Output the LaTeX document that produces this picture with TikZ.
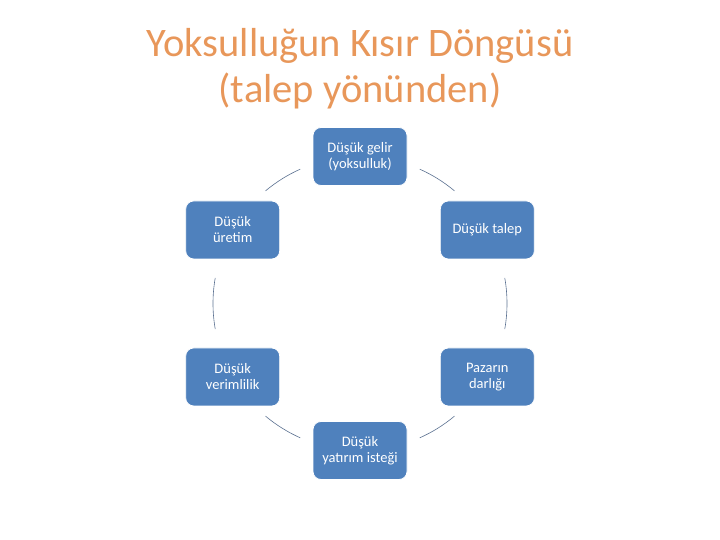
\documentclass[tikz,border=0pt]{standalone}
\usepackage{fontspec}
\setmainfont{Carlito}
\usetikzlibrary{calc}
\definecolor{titleor}{HTML}{E8975A}
\definecolor{boxblue}{HTML}{4F81BD}
\definecolor{arcline}{HTML}{5A7090}
\begin{document}
\begin{tikzpicture}[x=1pt,y=1pt,
  box/.style={draw=white,line width=0.8pt,fill=boxblue,rounded corners=8pt,
    minimum width=94pt,minimum height=58pt,inner sep=2pt,text=white,align=center,
    font=\fontsize{14.5}{16}\selectfont},
  ttl/.style={text=titleor,anchor=base,font=\fontsize{40.5}{46}\selectfont,inner sep=0pt},
  arcc/.style={draw=arcline,line width=0.6pt}]
\useasboundingbox (0,0) rectangle (720,540);
\node[ttl] (t1) at (360,483) {Yoksulluğun Kısır Döngüsü};
\node[ttl] (t2) at (360,437) {(talep yönünden)};
\coordinate (c) at (360,236.5);
\node[box] (n1) at ($(c)+(90:147)$) {Düşük gelir\\(yoksulluk)};
\node[box] (n2) at ($(c)+(30:147)$) {Düşük talep};
\node[box] (n3) at ($(c)+(-30:147)$) {Pazarın\\darlığı};
\node[box] (n4) at ($(c)+(-90:147)$) {Düşük\\yatırım isteği};
\node[box] (n5) at ($(c)+(-150:147)$) {Düşük\\verimlilik};
\node[box] (n6) at ($(c)+(150:147)$) {Düşük\\üretim};
\draw[arcc] ($(c)+(66:147)$) arc[start angle=66,end angle=50,radius=147];
\draw[arcc] ($(c)+(10:147)$) arc[start angle=10,end angle=-10,radius=147];
\draw[arcc] ($(c)+(-50:147)$) arc[start angle=-50,end angle=-66,radius=147];
\draw[arcc] ($(c)+(-114:147)$) arc[start angle=-114,end angle=-130,radius=147];
\draw[arcc] ($(c)+(-170:147)$) arc[start angle=-170,end angle=-190,radius=147];
\draw[arcc] ($(c)+(130:147)$) arc[start angle=130,end angle=114,radius=147];
\end{tikzpicture}
\end{document}
